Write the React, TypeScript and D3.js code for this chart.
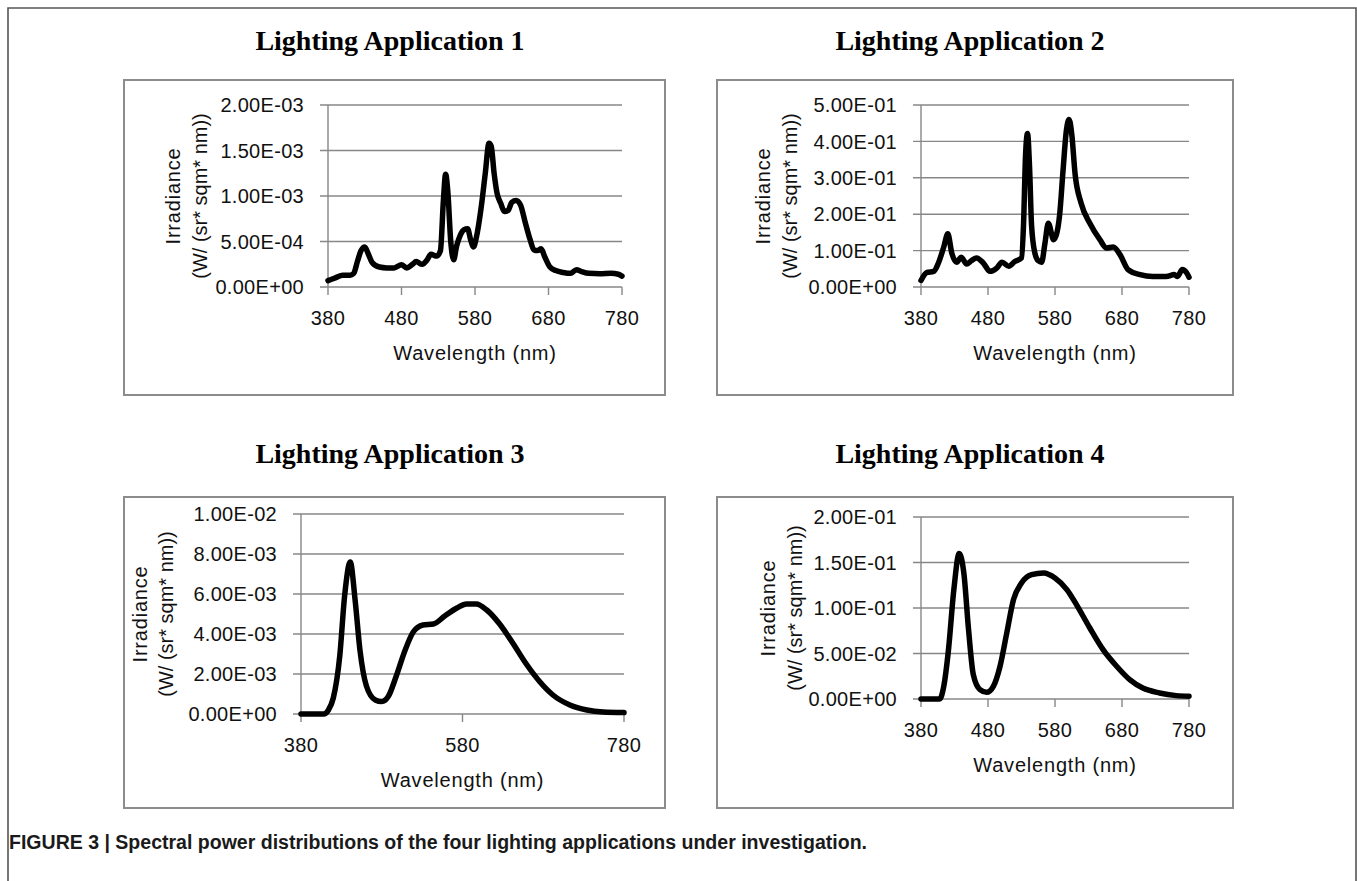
import React from "react";
import * as d3 from "d3";

// ---------- Data ----------
const wl1 = [380,390,400,410,415,420,425,430,435,440,450,460,470,480,487,495,500,508,515,520,528,533,537,540,543,547,551,555,560,565,570,574,578,582,588,594,599,602,606,610,615,620,625,630,636,642,648,655,660,665,670,675,682,690,700,710,718,725,735,750,765,775,780];
const irr1 = [0.07,0.10,0.13,0.13,0.15,0.28,0.40,0.44,0.36,0.27,0.22,0.21,0.21,0.245,0.21,0.25,0.28,0.25,0.30,0.36,0.34,0.40,0.95,1.24,1.05,0.50,0.30,0.45,0.57,0.63,0.64,0.52,0.44,0.55,0.85,1.25,1.58,1.55,1.25,1.03,0.92,0.83,0.84,0.93,0.95,0.90,0.72,0.52,0.41,0.40,0.42,0.33,0.22,0.18,0.16,0.15,0.19,0.17,0.15,0.145,0.15,0.14,0.12].map(v => v * 1e-3);

const wl2 = [380,389,399,406,414,420,426,433,440,448,455,463,473,483,493,501,511,520,530,533,536,539,542,545,550,555,560,565,570,578,583,587,592,597,601,605,610,619,632,647,657,667,677,689,707,726,746,758,763,770,776,780];
const irr2 = [0.018,0.04,0.043,0.066,0.11,0.146,0.093,0.068,0.082,0.063,0.072,0.08,0.066,0.043,0.052,0.068,0.057,0.07,0.08,0.17,0.36,0.422,0.33,0.17,0.093,0.072,0.068,0.12,0.175,0.13,0.15,0.20,0.32,0.43,0.46,0.42,0.31,0.23,0.175,0.13,0.107,0.11,0.089,0.048,0.034,0.029,0.029,0.034,0.029,0.048,0.04,0.027];

const wl3 = [380,408,414,420,428,434,441,447,453,461,472,480,488,498,509,519,531,544,558,573,585,597,610,626,643,659,676,692,713,734,754,780];
const irr3 = [0,0,0.2,0.8,2.9,5.9,7.6,5.7,3.2,1.4,0.7,0.62,0.87,1.9,3.2,4.1,4.45,4.5,4.9,5.3,5.5,5.5,5.2,4.5,3.5,2.5,1.6,0.95,0.45,0.2,0.1,0.07].map(v => v * 1e-3);

const wl4 = [380,408,414,421,429,437,444,451,458,468,478,488,498,508,518,530,545,563,580,598,612,632,652,672,692,711,736,761,780];
const irr4 = [0,0,0.014,0.054,0.12,0.16,0.138,0.076,0.027,0.0103,0.0073,0.0139,0.036,0.0725,0.109,0.1275,0.1366,0.1385,0.133,0.12,0.1037,0.078,0.054,0.036,0.021,0.012,0.0066,0.0037,0.003];

const xTicksA = [380, 480, 580, 680, 780];
const xTicksB = [380, 580, 780];
const yTicks1 = [0, 5e-4, 1e-3, 1.5e-3, 2e-3];
const yTicks2 = [0, 0.1, 0.2, 0.3, 0.4, 0.5];
const yTicks3 = [0, 0.002, 0.004, 0.006, 0.008, 0.01];
const yTicks4 = [0, 0.05, 0.1, 0.15, 0.2];

const titles = ["Lighting Application 1", "Lighting Application 2", "Lighting Application 3", "Lighting Application 4"];
const xTitle = "Wavelength (nm)";
const yTitle1 = "Irradiance";
const yTitle2 = "(W/ (sr* sqm* nm))";
const caption = "FIGURE 3 | Spectral power distributions of the four lighting applications under investigation.";

// ---------- Layout ----------
type Panel = {
  title: string; titleX: number; titleY: number;
  box: [number, number, number, number];
  plot: { x0: number; x1: number; y0: number; y1: number };
  wl: number[]; irr: number[]; xTicks: number[]; yTicks: number[];
  yTitleX: [number, number];
};

const panels: Panel[] = [
  { title: titles[0], titleX: 390, titleY: 50, box: [124, 80, 665, 395],
    plot: { x0: 328, x1: 622, y0: 287, y1: 105 }, wl: wl1, irr: irr1, xTicks: xTicksA, yTicks: yTicks1, yTitleX: [173, 200] },
  { title: titles[1], titleX: 970, titleY: 50, box: [717, 80, 1233, 395],
    plot: { x0: 921, x1: 1189, y0: 287, y1: 105 }, wl: wl2, irr: irr2, xTicks: xTicksA, yTicks: yTicks2, yTitleX: [763, 790] },
  { title: titles[2], titleX: 390, titleY: 463, box: [124, 497, 665, 808],
    plot: { x0: 301, x1: 624, y0: 714, y1: 514 }, wl: wl3, irr: irr3, xTicks: xTicksB, yTicks: yTicks3, yTitleX: [140, 166] },
  { title: titles[3], titleX: 970, titleY: 463, box: [717, 497, 1233, 808],
    plot: { x0: 921, x1: 1189, y0: 699, y1: 517 }, wl: wl4, irr: irr4, xTicks: xTicksA, yTicks: yTicks4, yTitleX: [768, 795] },
];

function fmtE(v: number): string {
  const [m, e] = v.toExponential(2).split("e");
  const ex = parseInt(e, 10);
  const sign = ex < 0 ? "-" : "+";
  return `${m}E${sign}${String(Math.abs(ex)).padStart(2, "0")}`;
}

const GRID = "#878787";
const FONT = "'Liberation Sans', Arial, Helvetica, sans-serif";

function PanelView({ p }: { p: Panel }) {
  const yMax = p.yTicks[p.yTicks.length - 1];
  const x = d3.scaleLinear().domain([380, 780]).range([p.plot.x0, p.plot.x1]);
  const y = d3.scaleLinear().domain([0, yMax]).range([p.plot.y0, p.plot.y1]);
  const line = d3.line<number>()
    .x((_, i) => x(p.wl[i]))
    .y(d => y(d))
    .curve(d3.curveMonotoneX);
  const [bx0, by0, bx1, by1] = p.box;
  const cy = (p.plot.y0 + p.plot.y1) / 2;
  const cx = (p.plot.x0 + p.plot.x1) / 2;
  return (
    <g>
      <text x={p.titleX} y={p.titleY} textAnchor="middle" fontFamily="'Liberation Serif', 'Times New Roman', serif"
        fontWeight="bold" fontSize={28} fill="#000">{p.title}</text>
      <rect x={bx0} y={by0} width={bx1 - bx0} height={by1 - by0} fill="#fff" stroke="#8c8c8c" strokeWidth={2} />
      {p.yTicks.map((t, i) => (
        <g key={"y" + i}>
          <line x1={p.plot.x0 - 8} x2={p.plot.x1} y1={y(t)} y2={y(t)} stroke={GRID} strokeWidth={1.4} />
          <text x={p.plot.x0 - 24} y={y(t)} dy="0.36em" textAnchor="end" fontFamily={FONT} fontSize={20} fill="#111"
            letterSpacing={0.3}>{fmtE(t)}</text>
        </g>
      ))}
      <line x1={p.plot.x0} x2={p.plot.x0} y1={p.plot.y1} y2={p.plot.y0} stroke={GRID} strokeWidth={1.4} />
      {p.xTicks.map((t, i) => (
        <g key={"x" + i}>
          <line x1={x(t)} x2={x(t)} y1={p.plot.y0} y2={p.plot.y0 + 8} stroke={GRID} strokeWidth={1.4} />
          <text x={x(t)} y={p.plot.y0 + 38} textAnchor="middle" fontFamily={FONT} fontSize={20} fill="#111"
            letterSpacing={0.3}>{t}</text>
        </g>
      ))}
      <text x={cx} y={p.plot.y0 + 73} textAnchor="middle" fontFamily={FONT} fontSize={20} fill="#111"
        letterSpacing={0.8}>{xTitle}</text>
      <text transform={`translate(${p.yTitleX[0]},${cy}) rotate(-90)`} textAnchor="middle" dy="0.36em"
        fontFamily={FONT} fontSize={20} fill="#111" letterSpacing={0.8}>{yTitle1}</text>
      <text transform={`translate(${p.yTitleX[1]},${cy}) rotate(-90)`} textAnchor="middle" dy="0.36em"
        fontFamily={FONT} fontSize={20} fill="#111">{yTitle2}</text>
      <path d={line(p.irr) || ""} fill="none" stroke="#000" strokeWidth={5.5} strokeLinejoin="round" strokeLinecap="round" />
    </g>
  );
}

export default function App() {
  return (
    <svg width={1357} height={881} viewBox="0 0 1357 881"
      style={{ position: "absolute", left: 0, top: 0, background: "#fff", display: "block" }}>
      <rect x={0} y={0} width={1357} height={881} fill="#fff" />
      <path d="M8,895 L8,8 L1356,8 L1356,895" fill="none" stroke="#555" strokeWidth={1.6} />
      {panels.map((p, i) => <PanelView key={i} p={p} />)}
      <text x={9} y={849} fontFamily="'Liberation Sans Narrow', 'Arial Narrow', 'Liberation Sans', Arial, sans-serif"
        fontWeight="bold" fontSize={20} fill="#1a1a1a" textLength={858} lengthAdjust="spacingAndGlyphs">{caption}</text>
    </svg>
  );
}
